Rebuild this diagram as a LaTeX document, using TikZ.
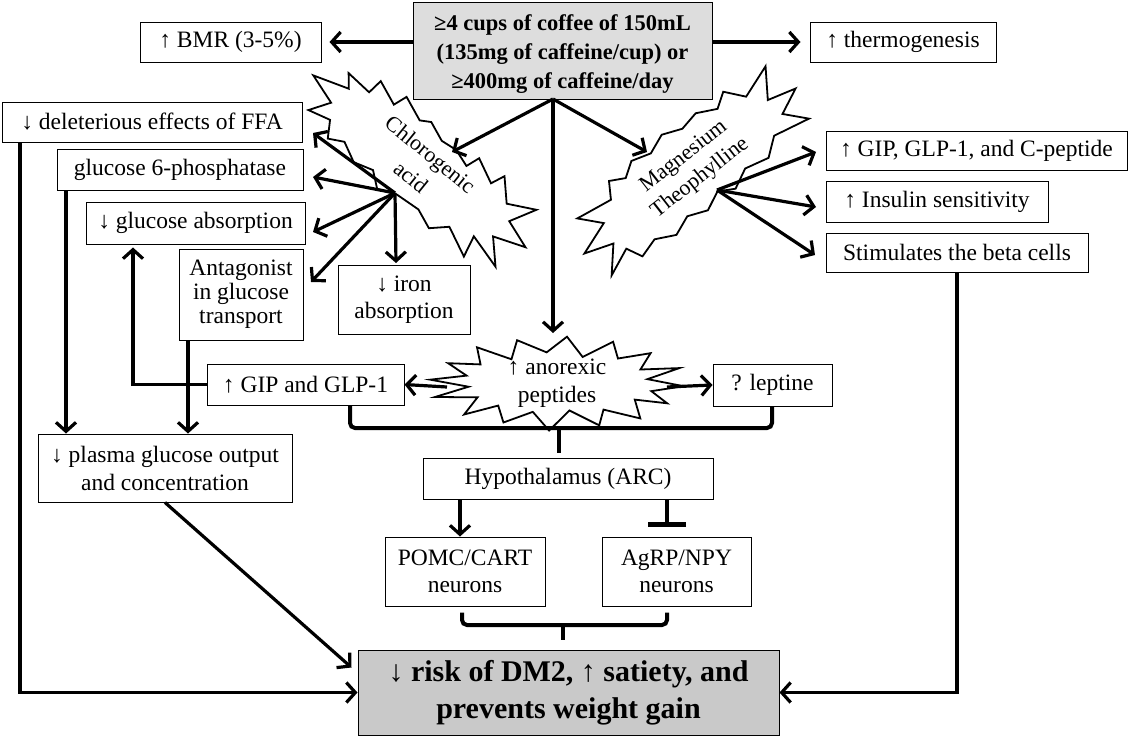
\documentclass[tikz,border=0pt]{standalone}
\usepackage{fontspec}
\setmainfont{Liberation Serif}
\usetikzlibrary{arrows.meta,calc}
\definecolor{topgray}{HTML}{DDDDDD}
\definecolor{resgray}{HTML}{C9C9C9}
\begin{document}
\begin{tikzpicture}[x=1pt,y=-1pt,
  box/.style={draw, line width=1pt, fill=white, inner sep=0pt, align=center, font=\fontsize{23.5}{26}\selectfont},
  arr/.style={line width=3.2pt, -{Straight Barb[length=9pt,width=20pt]}},
  brace/.style={line width=4pt, rounded corners=5pt},
  burst/.style={draw, line width=1.8pt, fill=white, line join=miter},
  btext/.style={align=center, inner sep=0pt, font=\fontsize{22}{25}\selectfont}]
\useasboundingbox (0,0) rectangle (1128,736);

% ---------- boxes ----------
\node[box, fill=topgray, minimum width=299pt, minimum height=97pt] (top) at (562.5,50.5) {};
\node[btext, font=\bfseries\fontsize{22.5}{29}\selectfont] (toptext) at (562.5,54) {≥4 cups of coffee of 150mL\\(135mg of caffeine/cup) or\\≥400mg of caffeine/day};
\node[box, minimum width=181pt, minimum height=40pt] (bmr) at (230.5,42) {↑ BMR (3-5\%)};
\node[box, minimum width=186pt, minimum height=40pt] (thermo) at (903,42) {↑ thermogenesis};
\node[box, minimum width=300pt, minimum height=40pt] (del) at (152,122) {↓ deleterious effects of FFA};
\node[box, minimum width=246pt, minimum height=41pt] (g6p) at (180,169.5) {glucose 6-phosphatase};
\node[box, minimum width=219pt, minimum height=42pt] (gabs) at (195.5,223) {↓ glucose absorption};
\node[box, minimum width=124pt, minimum height=91pt, font=\fontsize{23.5}{24}\selectfont] (ant) at (241,294.5) {Antagonist\\in glucose\\transport};
\node[box, minimum width=132pt, minimum height=69pt, font=\fontsize{23.5}{27}\selectfont] (iron) at (404,299.5) {↓ iron\\absorption};
\node[box, minimum width=301pt, minimum height=39pt] (gipc) at (976.5,150.5) {↑ GIP, GLP-1, and C-peptide};
\node[box, minimum width=222pt, minimum height=41pt] (ins) at (937,201.5) {↑ Insulin sensitivity};
\node[box, minimum width=262pt, minimum height=39pt] (beta) at (957,252.5) {Stimulates the beta cells};
\node[box, minimum width=197pt, minimum height=41pt] (gip) at (305.5,384.5) {↑ GIP and GLP-1};
\node[box, minimum width=119pt, minimum height=42pt] (lep) at (772.5,385) {? leptine};
\node[box, minimum width=290pt, minimum height=41pt] (hyp) at (568,478.5) {Hypothalamus (ARC)};
\node[box, minimum width=160pt, minimum height=69pt, font=\fontsize{23.5}{27}\selectfont] (pomc) at (465,571.5) {POMC/CART\\neurons};
\node[box, minimum width=149pt, minimum height=69pt, font=\fontsize{23.5}{27}\selectfont] (agrp) at (676.5,571.5) {AgRP/NPY\\neurons};
\node[box, minimum width=254pt, minimum height=68pt, font=\fontsize{23.5}{28}\selectfont] (plasma) at (165,468) {↓ plasma glucose output\\and concentration};
\node[box, fill=resgray, minimum width=421pt, minimum height=85pt, font=\bfseries\fontsize{30}{37}\selectfont] (res) at (568.5,692.5) {↓ risk of DM2, ↑ satiety, and\\prevents weight gain};

% ---------- starbursts ----------
\begin{scope}[shift={(419,161)}, rotate=-39]
\draw[burst] (-136,0) -- (-100,-12) -- (-110,-24) -- (-82,-22) -- (-80,-38) -- (-55,-28) -- (-50,-42) -- (-25,-32) -- (-15,-38) -- (5,-30) -- (22,-32) -- (40,-26) -- (45,-40) -- (70,-28) -- (76,-42) -- (95,-22) -- (122,-36) -- (108,-10) -- (137,0)
  -- (105,12) -- (126,34) -- (90,24) -- (95,46) -- (65,32) -- (50,46) -- (30,38) -- (4,40) -- (-15,48) -- (-30,36) -- (-50,42) -- (-70,32) -- (-85,40) -- (-95,24) -- (-118,30) -- (-105,10) -- cycle;
\end{scope}
\node[btext, rotate=-39] (cga1) at (429,156) {Chlorogenic};
\node[btext, rotate=-39] (cga2) at (411,177) {acid};

\begin{scope}[shift={(690,171)}, rotate=38]
\draw[burst] (-134,0) -- (-100,-12) -- (-118,-32) -- (-80,-26) -- (-70,-42) -- (-55,-34) -- (-40,-44) -- (-20,-38) -- (0,-46) -- (20,-38) -- (40,-42) -- (60,-32) -- (75,-42) -- (90,-24) -- (124,-36) -- (105,-8) -- (134,0)
  -- (108,12) -- (126,32) -- (88,24) -- (70,38) -- (45,32) -- (25,42) -- (9,33) -- (-10,42) -- (-30,34) -- (-50,42) -- (-70,32) -- (-90,38) -- (-98,22) -- (-126,34) -- (-105,10) -- cycle;
\end{scope}
\node[btext, rotate=38] (mgt1) at (684,157) {Magnesium};
\node[btext, rotate=38] (mgt2) at (700,178) {Theophylline};

\begin{scope}[shift={(558,383)}]
\draw[burst] plot[samples at={0,...,31}] ({(ifthenelse(mod(\x,2)==0,126,94)+4*sin(\x*137))*cos(\x*11.25+4)}, {(ifthenelse(mod(\x,2)==0,46,29)+2*sin(\x*97))*sin(\x*11.25+4)}) -- cycle;
\end{scope}
\node[btext, font=\fontsize{23.5}{28}\selectfont] (ano) at (557,383) {↑ anorexic\\peptides};

% ---------- coordinates ----------
\coordinate (th) at (553,99);
\coordinate (cgin) at (452,152);
\coordinate (mgin) at (647,152);
\coordinate (anin) at (553,333);
\coordinate (cgh) at (395,193);
\coordinate (cg1) at (313,133);
\coordinate (cg2) at (313,177);
\coordinate (cg3) at (313,232);
\coordinate (cg4) at (311,282);
\coordinate (cg5) at (396,263);
\coordinate (mgh) at (717,190);
\coordinate (mg1) at (816,152);
\coordinate (mg2) at (816,207);
\coordinate (mg3) at (815,255);
\coordinate (anL) at (447,387);
\coordinate (anR) at (667,387);

% ---------- connectors ----------
\draw[arr, shorten >=8pt] (top.west |- bmr.east) -- (bmr.east);
\draw[arr, shorten >=9pt] (top.east |- thermo.west) -- (thermo.west);
\draw[arr] (th) -- (cgin);
\draw[arr] (th) -- (mgin);
\draw[arr] (th) -- (anin);

\foreach \t in {cg1,cg2,cg3,cg4,cg5} \draw[arr] (cgh) -- (\t);
\foreach \t in {mg1,mg2,mg3} \draw[arr] (mgh) -- (\t);

\draw[arr] (anL) -- (gip.east);
\draw[arr] (anR) -- (lep.west);

% brace under GIP / leptine
\coordinate (b1l) at ($(gip.south)+(44.5,0)$);
\coordinate (b1r) at ($(lep.south)+(-0.5,0)$);
\coordinate (b1c) at (559,428);
\draw[brace] (b1l) |- (b1c) -| (b1r);
\draw[brace] (b1c) -- ($(b1c)+(0,25)$);

% hypothalamus outputs
\coordinate (hp) at ($(hyp.south)+(-108,0)$);
\coordinate (hi) at ($(hyp.south)+(99,0)$);
\draw[arr] (hp) -- (hp |- pomc.north);
\draw[line width=3.2pt, -{Bar[width=38pt,line width=4.5pt]}] (hi) -- ($(hi |- agrp.north)+(0,-10)$);

% brace under POMC / AgRP
\coordinate (b2l) at ($(pomc.south)+(-3,6)$);
\coordinate (b2r) at ($(agrp.south)+(-9.5,6)$);
\coordinate (b2c) at (563,625);
\draw[brace] (b2l) |- (b2c) -| (b2r);
\draw[brace] (b2c) -- ($(b2c)+(0,15)$);

% left side
\coordinate (delb) at ($(del.south)+(-132,0)$);
\draw[arr] (delb) |- (res.west);
\coordinate (g6pb) at ($(g6p.south)+(-114,0)$);
\draw[arr] (g6pb) -- (g6pb |- plasma.north);
\coordinate (antb) at ($(ant.south)+(-53,0)$);
\draw[arr] (antb) -- (antb |- plasma.north);
\coordinate (gabb) at ($(gabs.south)+(-62.5,0)$);
\draw[arr, shorten >=3pt] (gip.west) -| (gabb);
\coordinate (resnw) at ($(res.north west)+(-6,18)$);
\draw[arr] (plasma.south) -- (resnw);

% right side
\draw[arr] (beta.south) |- (res.east);
\end{tikzpicture}
\end{document}
